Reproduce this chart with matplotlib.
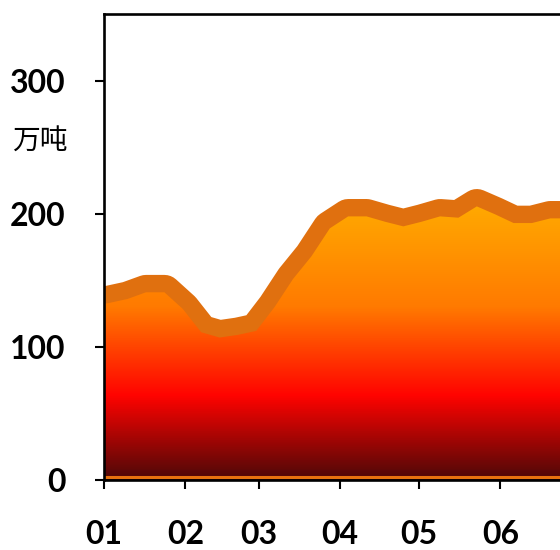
import numpy as np
import matplotlib
matplotlib.use('Agg')
import matplotlib.pyplot as plt
import matplotlib.dates as mdates
from matplotlib.colors import LinearSegmentedColormap

# ---- data ----
dates = ['2010-12-27', '2011-01-03', '2011-01-10', '2011-01-17', '2011-01-24',
         '2011-01-31', '2011-02-07', '2011-02-14', '2011-02-21', '2011-02-28',
         '2011-03-07', '2011-03-14', '2011-03-21', '2011-03-28', '2011-04-04',
         '2011-04-11', '2011-04-18', '2011-04-25', '2011-05-02', '2011-05-09',
         '2011-05-16', '2011-05-23', '2011-05-30', '2011-06-06', '2011-06-13',
         '2011-06-20', '2011-06-27']
values = [131, 133, 136, 141, 141, 128.5, 111, 107, 109, 112,
          130, 151, 168, 189, 198, 198, 194, 190.5, 194, 198,
          197, 205.5, 199.5, 193, 193, 196.5, 196.5]
month_ticks = ['2011-01-01', '2011-02-01', '2011-03-01', '2011-04-01',
               '2011-05-01', '2011-06-01']
month_labels = ['01', '02', '03', '04', '05', '06']
y_ticks = [0, 100, 200, 300]
unit_label = '万吨'

num_font = ['Lato', 'DejaVu Sans']

x = np.array(dates, dtype='datetime64[D]')
v = np.array(values, dtype=float)

fig = plt.figure(figsize=(5.6, 5.5), dpi=100)
ax = fig.add_axes([104/560, 70/550, 596/560, 466/550])

x0 = np.datetime64('2011-01-01')
x1 = x0 + np.timedelta64(227, 'D')

# thick line behind the fill
ax.plot(x, v, color='#e0700f', lw=25, solid_joinstyle='round', zorder=1)

# gradient fill
cmap = LinearSegmentedColormap.from_list('fire', [
    (0.0, '#4d0808'), (63/350, '#ff0300'), (130/350, '#ff7a00'),
    (205/350, '#ffa800'), (1.0, '#ffd000')])
poly = ax.fill_between(x, v, 0, color='none', lw=0)
grad = np.linspace(0, 1, 512).reshape(-1, 1)
xn0, xn1 = mdates.date2num(x0), mdates.date2num(x1)
im = ax.imshow(grad, extent=[xn0, xn1, 0, 350], origin='lower', aspect='auto',
               cmap=cmap, zorder=2, interpolation='bilinear')
im.set_clip_path(poly.get_paths()[0], transform=ax.transData)
ax.set_xlim(x0, x1)
ax.set_ylim(0, 350)

# thin orange strip at the base
ax.axhline(2.3, color='#e8720f', lw=2.2, zorder=3)

ax.set_xticks(np.array(month_ticks, dtype='datetime64[D]'))
ax.set_xticklabels(month_labels)
ax.set_yticks(y_ticks)

for s in ax.spines.values():
    s.set_linewidth(1.9)
    s.set_color('black')
    s.set_zorder(5)

ax.tick_params(axis='both', direction='out', length=6.5, width=1.5, color='black')
ax.tick_params(axis='y', pad=21)
ax.tick_params(axis='x', pad=22.5)
for lab in ax.get_xticklabels() + ax.get_yticklabels():
    lab.set_fontfamily(num_font)
    lab.set_fontsize(23)
    lab.set_fontweight('bold')

fig.text(40/560, 1 - 142/550, unit_label, fontsize=20,
         family=['Noto Sans CJK SC', 'DejaVu Sans'], ha='center', va='center')

fig.savefig('out.png', dpi=100)
